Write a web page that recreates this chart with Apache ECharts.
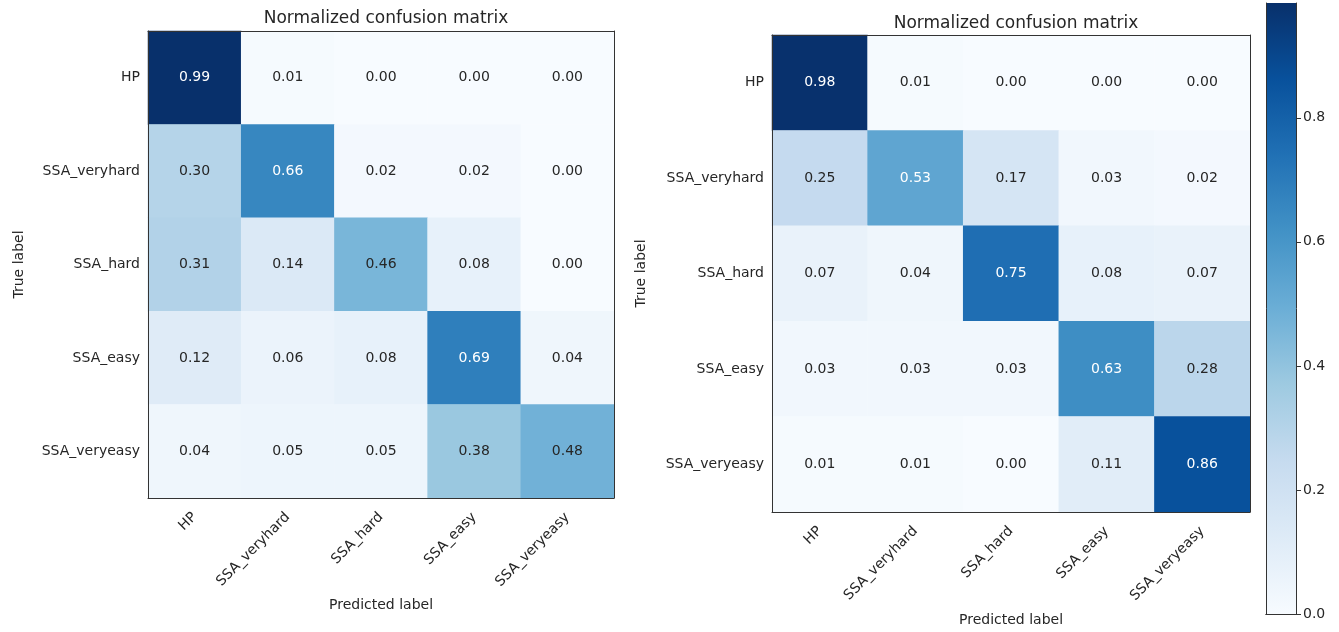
<!DOCTYPE html>
<html lang="en">
<head>
    <meta charset="UTF-8">
    <title>Normalized confusion matrices</title>
    <script src="https://cdn.jsdelivr.net/npm/echarts@6/dist/echarts.min.js"></script>
    <style>
        html, body, #chart {
            width: 1339px;
            height: 632px;
            padding: 0;
            margin: 0;
            background: #fff;
        }
    </style>
</head>
<body>
<div id="chart"></div>
<script>
    // class labels (rows = true, columns = predicted)
    var classes = ["HP", "SSA_veryhard", "SSA_hard", "SSA_easy", "SSA_veryeasy"];

    var leftMatrix = [
        [0.99, 0.01, 0.00, 0.00, 0.00],
        [0.30, 0.66, 0.02, 0.02, 0.00],
        [0.31, 0.14, 0.46, 0.08, 0.00],
        [0.12, 0.06, 0.08, 0.69, 0.04],
        [0.04, 0.05, 0.05, 0.38, 0.48]
    ];

    var rightMatrix = [
        [0.98, 0.01, 0.00, 0.00, 0.00],
        [0.25, 0.53, 0.17, 0.03, 0.02],
        [0.07, 0.04, 0.75, 0.08, 0.07],
        [0.03, 0.03, 0.03, 0.63, 0.28],
        [0.01, 0.01, 0.00, 0.11, 0.86]
    ];

    var leftMax = 0.99;
    var rightMax = 0.985;
    var colorbarTicks = [0, 0.2, 0.4, 0.6, 0.8];

    // matplotlib "Blues"
    var blues = ["#f7fbff", "#deebf7", "#c6dbef", "#9ecae1", "#6baed6",
        "#4292c6", "#2171b5", "#08519c", "#08306b"];

    var font = "DejaVu Sans";
    var textColor = "#262626";

    function cells(m, vmax) {
        var out = [];
        m.forEach(function (row, i) {
            row.forEach(function (v, j) {
                out.push({
                    value: [j, i, v],
                    label: {color: v > vmax / 2 ? "#ffffff" : textColor}
                });
            });
        });
        return out;
    }

    function frameAxes(gi, xName, yName, xGap, yGap) {
        var lineStyle = {color: "#333", width: 1};
        return {
            x: [{
                type: "category", gridIndex: gi, data: classes, z: 5,
                axisLine: {lineStyle: lineStyle},
                axisTick: {alignWithLabel: true, length: 5, lineStyle: lineStyle},
                axisLabel: {rotate: 45, fontFamily: font, fontSize: 14, color: textColor, margin: 17, interval: 0},
                name: xName, nameLocation: "middle", nameGap: xGap,
                nameTextStyle: {fontFamily: font, fontSize: 14, color: textColor}
            }, {
                type: "category", gridIndex: gi, data: classes, position: "top", z: 5,
                axisLine: {lineStyle: lineStyle}, axisTick: {show: false}, axisLabel: {show: false}
            }],
            y: [{
                type: "category", gridIndex: gi, data: classes, inverse: true, z: 5,
                axisLine: {lineStyle: lineStyle},
                axisTick: {alignWithLabel: true, length: 5, lineStyle: lineStyle},
                axisLabel: {fontFamily: font, fontSize: 14, color: textColor, margin: 8, interval: 0},
                name: yName, nameLocation: "middle", nameGap: yGap, nameRotate: 90,
                nameTextStyle: {fontFamily: font, fontSize: 14, color: textColor}
            }, {
                type: "category", gridIndex: gi, data: classes, inverse: true, position: "right", z: 5,
                axisLine: {lineStyle: lineStyle}, axisTick: {show: false}, axisLabel: {show: false}
            }]
        };
    }

    var leftAxes = frameAxes(0, "Predicted label", "True label", 100, 122);
    var rightAxes = frameAxes(1, "Predicted label", "True label", 101, 124);

    var cbLine = {color: "#333", width: 1};

    var xAxes = leftAxes.x.concat(rightAxes.x).concat([{
        type: "category", gridIndex: 2, data: [""], z: 5,
        axisLine: {lineStyle: cbLine}, axisTick: {show: false}, axisLabel: {show: false}
    }, {
        type: "category", gridIndex: 2, data: [""], position: "top", z: 5,
        axisLine: {lineStyle: cbLine}, axisTick: {show: false}, axisLabel: {show: false}
    }]);

    var yAxes = leftAxes.y.concat(rightAxes.y).concat([{
        type: "value", gridIndex: 2, position: "right", min: 0, max: rightMax, interval: 0.2, z: 5,
        splitLine: {show: false},
        axisLine: {show: true, lineStyle: cbLine},
        axisTick: {show: true, length: 5, lineStyle: cbLine},
        axisLabel: {
            fontFamily: font, fontSize: 14, color: textColor, margin: 7, showMaxLabel: false,
            formatter: function (v) {
                return colorbarTicks.indexOf(Math.round(v * 10) / 10) >= 0 ? v.toFixed(1) : "";
            }
        }
    }, {
        type: "value", gridIndex: 2, position: "left", min: 0, max: rightMax, z: 5,
        splitLine: {show: false}, axisLine: {show: true, lineStyle: cbLine},
        axisTick: {show: false}, axisLabel: {show: false}
    }]);

    var chart = echarts.init(document.getElementById("chart"), null, {renderer: "canvas"});

    var labelStyle = {show: true, fontFamily: font, fontSize: 14, formatter: function (p) {
        return p.value[2].toFixed(2);
    }};

    chart.setOption({
        animation: false,
        backgroundColor: "#fff",
        title: [{
            text: "Normalized confusion matrix", left: 381, top: 5, textAlign: "center",
            textStyle: {fontFamily: font, fontSize: 17, fontWeight: "normal", color: textColor}
        }, {
            text: "Normalized confusion matrix", left: 1011, top: 10, textAlign: "center",
            textStyle: {fontFamily: font, fontSize: 17, fontWeight: "normal", color: textColor}
        }],
        grid: [
            {left: 148, top: 31, width: 466, height: 467},
            {left: 772, top: 35, width: 478, height: 477},
            {left: 1266, top: 3, width: 30, height: 611}
        ],
        xAxis: xAxes,
        yAxis: yAxes,
        visualMap: [{
            type: "continuous", show: false, seriesIndex: 0, dimension: 2,
            min: 0, max: leftMax, inRange: {color: blues}
        }, {
            type: "continuous", show: false, seriesIndex: 1, dimension: 2,
            min: 0, max: rightMax, inRange: {color: blues}
        }],
        series: [{
            type: "heatmap", xAxisIndex: 0, yAxisIndex: 0,
            data: cells(leftMatrix, leftMax), label: labelStyle,
            itemStyle: {borderWidth: 0}, emphasis: {disabled: true}
        }, {
            type: "heatmap", xAxisIndex: 2, yAxisIndex: 2,
            data: cells(rightMatrix, rightMax), label: labelStyle,
            itemStyle: {borderWidth: 0}, emphasis: {disabled: true}
        }, {
            type: "bar", xAxisIndex: 4, yAxisIndex: 4, barWidth: "100%",
            data: [rightMax], silent: true,
            itemStyle: {
                color: new echarts.graphic.LinearGradient(0, 1, 0, 0, blues.map(function (c, i) {
                    return {offset: i / (blues.length - 1), color: c};
                }))
            }
        }]
    });
</script>
</body>
</html>
